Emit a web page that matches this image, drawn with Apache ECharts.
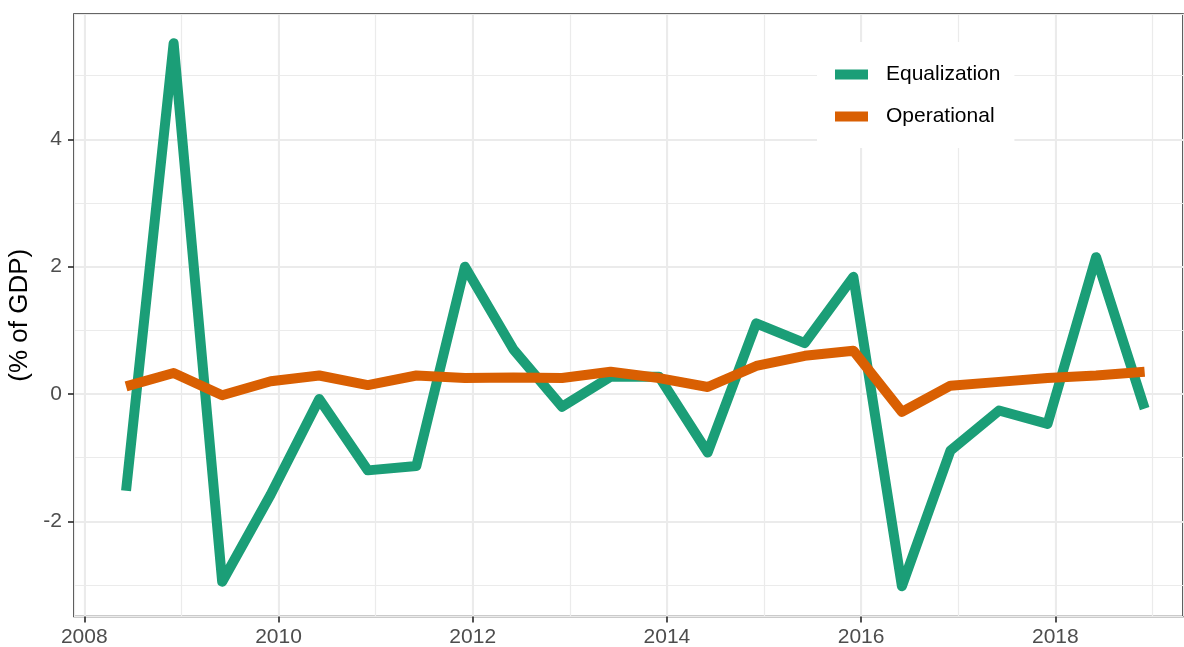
<!DOCTYPE html>
<html>
<head>
<meta charset="utf-8">
<title>Equalization / Operational</title>
<script src="https://cdn.jsdelivr.net/npm/echarts@6/dist/echarts.min.js"></script>
<style>
    html, body { margin: 0; padding: 0; background: #fff; }
    #chart { width: 1184px; height: 647px; }
</style>
</head>
<body>
<div id="chart"></div>
<script>
    // half-year observations (decimal years)
    var periods = [2008.43, 2008.92, 2009.42, 2009.92, 2010.42, 2010.92, 2011.42, 2011.92,
        2012.42, 2012.92, 2013.42, 2013.92, 2014.42, 2014.92, 2015.42, 2015.92,
        2016.42, 2016.92, 2017.42, 2017.92, 2018.42, 2018.92];
    var equalization = [-1.52, 5.51, -2.95, -1.58, -0.08, -1.2, -1.13, 2.0,
        0.7, -0.2, 0.27, 0.27, -0.92, 1.11, 0.8, 1.84,
        -3.02, -0.89, -0.26, -0.47, 2.15, -0.23];
    var operational = [0.12, 0.33, -0.02, 0.2, 0.29, 0.14, 0.29, 0.25,
        0.26, 0.25, 0.35, 0.25, 0.11, 0.44, 0.6, 0.68,
        -0.28, 0.13, 0.19, 0.25, 0.29, 0.35];
    var xTicks = [2008, 2010, 2012, 2014, 2016, 2018];
    var yTicks = [-2, 0, 2, 4];

    var font = 'Liberation Sans, Arial, sans-serif';
    var gridColor = '#ebebeb';
    var xMin = 2007.894, xMax = 2019.315;
    var yMin = -3.496, yMax = 5.97;

    function pairs(xs, ys) {
        var out = [];
        for (var i = 0; i < xs.length; i++) {
            out.push([xs[i], ys[i]]);
        }
        return out;
    }

    var myChart = echarts.init(document.getElementById('chart'));
    var option = {
        animation: false,
        backgroundColor: '#fff',
        grid: {
            left: 74, right: 1, top: 14, bottom: 30.5,
            containLabel: false, outerBoundsMode: 'none',
            show: true, borderColor: '#333', borderWidth: 1.7, backgroundColor: 'transparent'
        },
        legend: {
            data: ['Equalization', 'Operational'],
            orient: 'vertical',
            left: 817, top: 42,
            padding: [22, 14, 21, 18],
            backgroundColor: '#fff',
            icon: 'rect',
            itemWidth: 33,
            itemHeight: 10,
            itemGap: 21,
            textStyle: { fontFamily: font, fontSize: 21, color: '#000', padding: [0, 0, 0, 13] }
        },
        xAxis: [
            {
                type: 'value', min: xMin, max: xMax,
                minInterval: 2, maxInterval: 2,
                axisLine: { show: false, onZero: false },
                axisTick: { show: true, length: 6, customValues: xTicks, lineStyle: { color: '#333', width: 1.7 } },
                axisLabel: {
                    customValues: xTicks, margin: 10,
                    fontFamily: font, fontSize: 21, color: '#4d4d4d',
                    formatter: function (v) { return String(v); }
                },
                splitLine: { show: true, lineStyle: { color: gridColor, width: 2 } }
            },
            {
                type: 'value', min: xMin, max: xMax,
                minInterval: 1, maxInterval: 1,
                axisLine: { show: false, onZero: false }, axisTick: { show: false }, axisLabel: { show: false },
                splitLine: { show: true, lineStyle: { color: gridColor, width: 1.2 } }
            }
        ],
        yAxis: [
            {
                type: 'value', min: yMin, max: yMax,
                minInterval: 2, maxInterval: 2,
                name: '(% of GDP)', nameLocation: 'middle', nameGap: 36,
                nameTextStyle: { fontFamily: font, fontSize: 26, color: '#000' },
                axisLine: { show: false, onZero: false },
                axisTick: { show: true, length: 6, customValues: yTicks, lineStyle: { color: '#333', width: 1.7 } },
                axisLabel: {
                    customValues: yTicks, margin: 12,
                    fontFamily: font, fontSize: 21, color: '#4d4d4d'
                },
                splitLine: { show: true, lineStyle: { color: gridColor, width: 2 } }
            },
            {
                type: 'value', min: yMin, max: yMax,
                minInterval: 1, maxInterval: 1,
                axisLine: { show: false, onZero: false }, axisTick: { show: false }, axisLabel: { show: false },
                splitLine: { show: true, lineStyle: { color: gridColor, width: 1.2 } }
            }
        ],
        series: [
            {
                name: 'Equalization', type: 'line', symbol: 'none',
                data: pairs(periods, equalization),
                color: '#1b9e77',
                lineStyle: { color: '#1b9e77', width: 10, cap: 'butt', join: 'round' },
                emphasis: { disabled: true }
            },
            {
                name: 'Operational', type: 'line', symbol: 'none',
                data: pairs(periods, operational),
                color: '#d95f02',
                lineStyle: { color: '#d95f02', width: 10, cap: 'butt', join: 'round' },
                emphasis: { disabled: true }
            }
        ]
    };
    myChart.setOption(option);
</script>
</body>
</html>
